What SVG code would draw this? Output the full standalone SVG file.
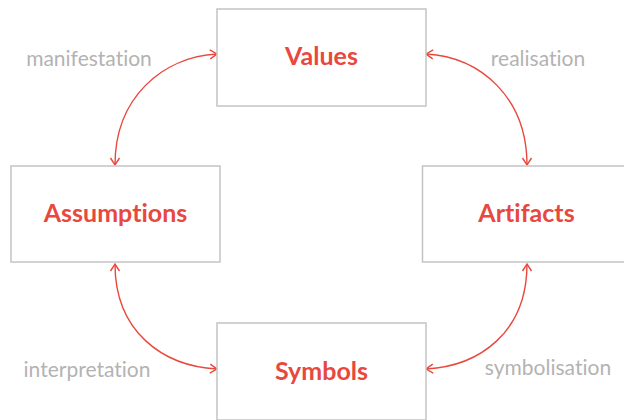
<svg xmlns="http://www.w3.org/2000/svg" width="624" height="420" viewBox="0 0 624 420">
<style>
text{font-variant-ligatures:none;font-feature-settings:"liga" 0}
.box{fill:#ffffff;stroke:#c4c4c4;stroke-width:1.5}
.node{font-family:Lato,"Open Sans","Liberation Sans",sans-serif;font-weight:700;font-size:25px;fill:#e8483e;text-anchor:middle}
.lbl{font-family:Lato,"Open Sans","Liberation Sans",sans-serif;font-size:21px;fill:#b3b3b3;text-anchor:middle}
.con{fill:none;stroke:#e8483e;stroke-width:1.4}
</style>
<defs>
<marker id="chev" markerUnits="userSpaceOnUse" markerWidth="12" markerHeight="12" viewBox="-9 -6 12 12" refX="0" refY="0" orient="auto-start-reverse" overflow="visible">
<path d="M-7,-4.5 L0,0 L-7,4.5" fill="none" stroke="#e8483e" stroke-width="1.4"/>
</marker>
</defs>
<rect width="624" height="420" fill="#ffffff"/>
<g id="connectors">
<path class="con" d="M217,54 C163,57 115,97 115,165" marker-start="url(#chev)" marker-end="url(#chev)"/>
<path class="con" d="M426,54 C480,57 527,97 527,165" marker-start="url(#chev)" marker-end="url(#chev)"/>
<path class="con" d="M115,264 C115,332 163,366 217,369" marker-start="url(#chev)" marker-end="url(#chev)"/>
<path class="con" d="M527,264 C527,332 480,366 426,369" marker-start="url(#chev)" marker-end="url(#chev)"/>
</g>
<g id="labels">
<text class="lbl" x="89" y="66">manifestation</text>
<text class="lbl" x="538" y="66">realisation</text>
<text class="lbl" x="87" y="377">interpretation</text>
<text class="lbl" x="548" y="375">symbolisation</text>
</g>
<g id="node-values">
<rect class="box" x="217" y="9" width="209" height="97"/>
<text class="node" x="321.5" y="64.5">Values</text>
</g>
<g id="node-assumptions">
<rect class="box" x="11" y="166" width="209" height="96"/>
<text class="node" x="115.5" y="222">Assumptions</text>
</g>
<g id="node-artifacts">
<rect class="box" x="422.5" y="166" width="209" height="96"/>
<text class="node" x="526.5" y="221.5">Artifacts</text>
</g>
<g id="node-symbols">
<rect class="box" x="217" y="323" width="209" height="97"/>
<text class="node" x="321.5" y="379.5">Symbols</text>
</g>
</svg>
